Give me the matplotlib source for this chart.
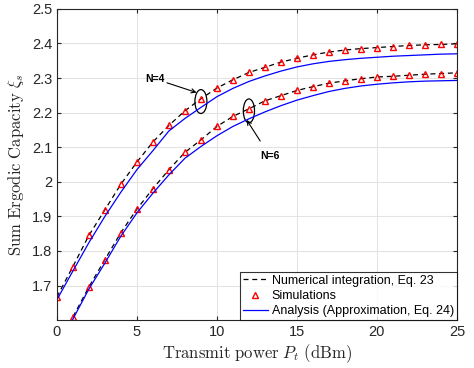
import matplotlib
matplotlib.use("Agg")
import matplotlib.pyplot as plt
from matplotlib.patches import Ellipse
import numpy as np

plt.rcParams['mathtext.fontset'] = 'cm'
plt.rcParams['font.family'] = ['Liberation Sans', 'DejaVu Sans']

power = list(range(0, 26))

# N=4
n4_num = [1.667, 1.755, 1.845, 1.919, 1.993, 2.057, 2.115, 2.163, 2.205, 2.240,
          2.271, 2.295, 2.316, 2.331, 2.346, 2.357, 2.367, 2.375, 2.381, 2.385,
          2.388, 2.391, 2.394, 2.396, 2.397, 2.399]
n4_sim = n4_num
n4_ana = [1.659, 1.742, 1.824, 1.900, 1.970, 2.035, 2.090, 2.147, 2.183, 2.215,
          2.246, 2.270, 2.290, 2.306, 2.320, 2.332, 2.341, 2.348, 2.353, 2.357,
          2.360, 2.363, 2.365, 2.367, 2.369, 2.370]

# N=6
n6_num = [1.520, 1.609, 1.696, 1.775, 1.853, 1.921, 1.980, 2.035, 2.085, 2.121,
          2.160, 2.189, 2.211, 2.234, 2.249, 2.264, 2.275, 2.285, 2.292, 2.298,
          2.303, 2.305, 2.308, 2.311, 2.313, 2.315]
n6_sim = n6_num
n6_ana = [1.515, 1.603, 1.690, 1.765, 1.843, 1.910, 1.967, 2.020, 2.068, 2.102,
          2.133, 2.160, 2.182, 2.202, 2.220, 2.236, 2.249, 2.261, 2.270, 2.277,
          2.282, 2.286, 2.289, 2.291, 2.292, 2.293]

fig = plt.figure(figsize=(4.74, 3.68), dpi=100)
ax = fig.add_axes([0.120, 0.130, 0.844, 0.846])

ax.plot(power, n4_num, 'k--', lw=0.9, dashes=(4, 3), label='Numerical integration, Eq. 23')
ax.plot(power, n4_sim, '^', ls='none', mfc='none', mec='red', mew=1.0, ms=4.5,
        label='Simulations')
ax.plot(power, n4_ana, '-', color='blue', lw=0.9,
        label='Analysis (Approximation, Eq. 24)')
ax.plot(power, n6_num, 'k--', lw=0.9, dashes=(4, 3))
ax.plot(power, n6_sim, '^', ls='none', mfc='none', mec='red', mew=1.0, ms=4.5)
ax.plot(power, n6_ana, '-', color='blue', lw=0.9)

ax.set_xlim(0, 25)
ax.set_ylim(1.6, 2.5)
ax.set_xticks([0, 5, 10, 15, 20, 25])
ax.set_yticks([1.7, 1.8, 1.9, 2.0, 2.1, 2.2, 2.3, 2.4, 2.5])
ax.set_yticklabels(['1.7', '1.8', '1.9', '2', '2.1', '2.2', '2.3', '2.4', '2.5'])
ax.grid(True, color='#e3e3e3', lw=0.8)
ax.set_axisbelow(True)
ax.tick_params(direction='in', top=True, right=True, labelsize=10.5, length=3,
               colors='#262626')
for s in ax.spines.values():
    s.set_color('#262626')
    s.set_linewidth(0.8)

ax.set_xlabel(r'$\mathrm{Transmit\ power}\ P_t\ \mathrm{(dBm)}$', fontsize=12,
              color='#262626', labelpad=2)
ax.set_ylabel(r'$\mathrm{Sum\ Ergodic\ Capacity}\ \xi_s$', fontsize=12,
              color='#262626', labelpad=4)

# annotations
ax.add_patch(Ellipse((9.0, 2.232), 0.75, 0.069, fill=False, ec='black', lw=0.9))
ax.add_patch(Ellipse((12.0, 2.205), 0.70, 0.069, fill=False, ec='black', lw=0.9))
ax.annotate('N=4', xy=(8.73, 2.258), xytext=(6.1, 2.298), fontsize=7.5,
            fontweight='bold', ha='center', va='center',
            arrowprops=dict(arrowstyle='->', lw=0.8, color='black',
                            shrinkA=0, shrinkB=0))
ax.annotate('N=6', xy=(11.86, 2.179), xytext=(13.3, 2.075), fontsize=7.5,
            fontweight='bold', ha='center', va='center',
            arrowprops=dict(arrowstyle='->', lw=0.8, color='black',
                            shrinkA=6, shrinkB=0))

leg = ax.legend(loc='lower right', fontsize=9, frameon=True, fancybox=False,
                edgecolor='black', handlelength=2.0, handletextpad=0.3,
                borderpad=0.25, labelspacing=0.25, borderaxespad=0.0)
leg.get_frame().set_linewidth(0.8)

fig.savefig('out.png', dpi=100)
